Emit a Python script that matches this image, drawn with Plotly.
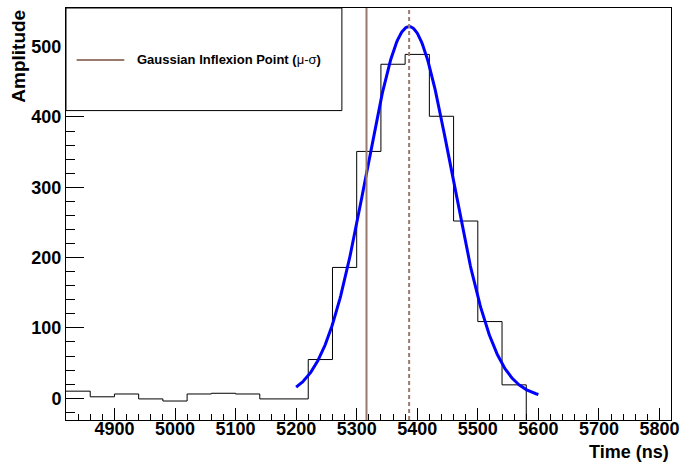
import numpy as np
import plotly.graph_objects as go

# Histogram data (bin left edges, width 40 ns)
bin_edges = [4820, 4860, 4900, 4940, 4980, 5020, 5060, 5100, 5140, 5180,
             5220, 5260, 5300, 5340, 5380, 5420, 5460, 5500, 5540, 5580]
counts = [10, 2, 6, -1, -4, 6, 7, 6, -1, -1,
          55, 186, 351, 475, 489, 401, 252, 109, 19]

# Gaussian fit parameters
fit_amp = 528.6
fit_mean = 5386.6
fit_sigma = 70.4
fit_range = [5200, 5600]

x_range = [4820, 5819]
y_range = [-31, 555]

x_ticks = [4900, 5000, 5100, 5200, 5300, 5400, 5500, 5600, 5700, 5800]
y_ticks = [0, 100, 200, 300, 400, 500]

legend_label = "<b>Gaussian Inflexion Point (</b>μ-σ<b>)</b>"
brown = "#9a7a6c"

fig = go.Figure()

# Histogram outline
hx = list(bin_edges) + [bin_edges[-1]]
hy = list(counts) + [counts[-1], y_range[0]]
fig.add_trace(go.Scatter(x=hx, y=hy, mode="lines", line_shape="hv",
                         line=dict(color="black", width=1), hoverinfo="skip",
                         showlegend=False))

# Gaussian fit curve
gx = np.linspace(fit_range[0], fit_range[1], 300)
gy = fit_amp * np.exp(-0.5 * ((gx - fit_mean) / fit_sigma) ** 2)
fig.add_trace(go.Scatter(x=gx, y=gy, mode="lines",
                         line=dict(color="#0000ff", width=3), showlegend=False))

# Vertical lines: mu - sigma (solid) and mu (dashed)
fig.add_shape(type="line", xref="x", yref="paper", x0=fit_mean - fit_sigma,
              x1=fit_mean - fit_sigma, y0=0, y1=1,
              line=dict(color=brown, width=2))
fig.add_shape(type="line", xref="x", yref="paper", x0=fit_mean, x1=fit_mean,
              y0=0, y1=1, line=dict(color=brown, width=2, dash="4px,3px"))

# Legend box
fig.add_shape(type="rect", xref="paper", yref="paper", x0=0, x1=0.456,
              y0=0.751, y1=1, fillcolor="white",
              line=dict(color="black", width=1), layer="above")
fig.add_shape(type="line", xref="paper", yref="paper", x0=0.0176, x1=0.0964,
              y0=0.874, y1=0.874, line=dict(color=brown, width=2), layer="above")
fig.add_annotation(xref="paper", yref="paper", x=0.114, y=0.874,
                   xanchor="left", yanchor="middle", text=legend_label,
                   showarrow=False,
                   font=dict(family="Liberation Sans, Arial", size=13, color="black"))

# Axis titles
fig.add_annotation(xref="paper", yref="paper", x=1, y=-0.078,
                   xanchor="right", yanchor="middle", text="<b>Time (ns)</b>",
                   showarrow=False,
                   font=dict(family="Liberation Sans, Arial", size=18, color="black"))
fig.add_annotation(xref="paper", yref="paper", x=-0.079, y=1.0,
                   xanchor="center", yanchor="top", text="<b>Amplitude</b>",
                   textangle=-90, showarrow=False,
                   font=dict(family="Liberation Sans, Arial", size=19, color="black"))

axis_font = dict(family="Liberation Sans, Arial", size=18, color="black")

fig.update_layout(
    width=682, height=463,
    margin=dict(l=66, r=11, t=8, b=43, autoexpand=False),
    paper_bgcolor="white", plot_bgcolor="white",
    showlegend=False,
    xaxis=dict(range=x_range, tickmode="array", tickvals=x_ticks,
               ticktext=["<b>%d</b>" % v for v in x_ticks],
               ticks="inside", ticklen=12, tickcolor="black", tickwidth=1,
               minor=dict(ticks="inside", ticklen=6, dtick=20, tick0=4800,
                          tickcolor="black", tickwidth=1, showgrid=False),
               showline=True, linecolor="black", linewidth=1, mirror=True,
               showgrid=False, zeroline=False, tickfont=axis_font,
               ticklabelstandoff=-8, automargin=False),
    yaxis=dict(range=y_range, tickmode="array", tickvals=y_ticks,
               ticktext=["<b>%d</b>" % v for v in y_ticks],
               ticks="inside", ticklen=18, tickcolor="black", tickwidth=1,
               minor=dict(ticks="inside", ticklen=9, dtick=20, tick0=0,
                          tickcolor="black", tickwidth=1, showgrid=False),
               showline=True, linecolor="black", linewidth=1, mirror=True,
               showgrid=False, zeroline=False, tickfont=axis_font,
               automargin=False),
)

fig.write_html("out.html")
